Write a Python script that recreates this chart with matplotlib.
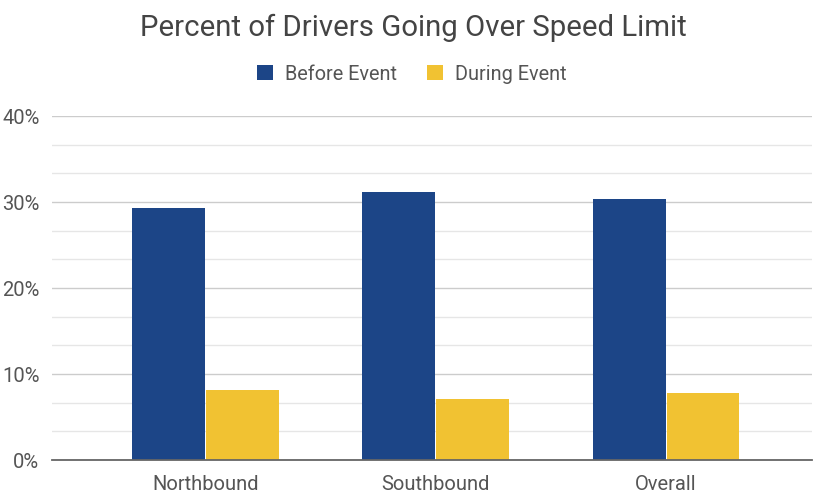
import matplotlib
matplotlib.use("Agg")
import matplotlib.pyplot as plt
import numpy as np

categories = ["Northbound", "Southbound", "Overall"]
before = [29.3, 31.2, 30.3]
during = [8.1, 7.1, 7.8]
series_names = ["Before Event", "During Event"]
yticks = [0, 10, 20, 30, 40]
ytick_labels = ["0%", "10%", "20%", "30%", "40%"]

plt.rcParams['font.family'] = ['Roboto', 'DejaVu Sans']
blue = "#1c4587"
yellow = "#f1c232"
text_col = "#555555"

fig = plt.figure(figsize=(8.13, 4.94), dpi=100)
ax = fig.add_axes([52/813, (494-460)/494, (812-52)/813, (460-116)/494])

x = np.arange(len(categories))
w = 0.316
ax.bar(x - w/2 - 0.002, before, w, color=blue, label=series_names[0], zorder=3)
ax.bar(x + w/2 + 0.002, during, w, color=yellow, label=series_names[1], zorder=3)

ax.set_xlim(-0.665, 2.633)
ax.set_ylim(0, 40)
ax.set_yticks(yticks)
ax.set_yticklabels(ytick_labels)
minor = [v for v in np.arange(0, 40.01, 10/3) if abs(v/10 - round(v/10)) > 1e-6]
ax.set_yticks(minor, minor=True)
ax.grid(axis='y', which='major', color="#cccccc", linewidth=1, zorder=0)
ax.grid(axis='y', which='minor', color="#e6e6e6", linewidth=1, zorder=0)
ax.set_xticks(x)
ax.set_xticklabels(categories)
for s in ["top", "right", "left"]:
    ax.spines[s].set_visible(False)
ax.spines["bottom"].set_color("#666666")
ax.spines["bottom"].set_linewidth(1.3)
ax.spines["bottom"].set_zorder(4)
ax.tick_params(axis='both', which='both', length=0, labelsize=14.5, labelcolor=text_col)
ax.tick_params(axis='x', pad=11)
ax.tick_params(axis='y', pad=9)

fig.text(413/813, 1 - 28/494, "Percent of Drivers Going Over Speed Limit",
         ha='center', va='center', fontsize=21.2, color="#444444")
leg = fig.legend(loc='center', bbox_to_anchor=(412/813, 1 - 74/494), ncol=2,
                 frameon=False, fontsize=14.3, handlelength=0.8, handleheight=0.8,
                 columnspacing=1.5, handletextpad=0.6)
for t in leg.get_texts():
    t.set_color(text_col)

fig.savefig("out.png", dpi=100)
